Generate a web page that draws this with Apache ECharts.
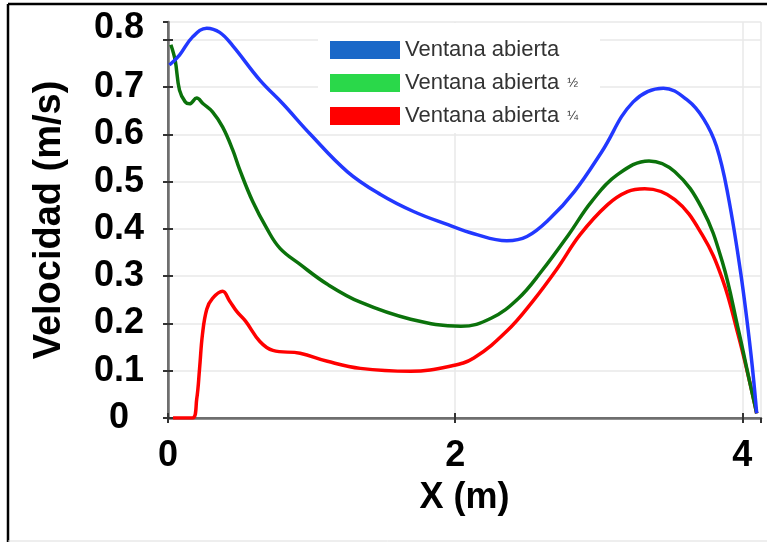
<!DOCTYPE html>
<html>
<head>
<meta charset="utf-8">
<script src="https://cdn.jsdelivr.net/npm/echarts@6/dist/echarts.min.js"></script>
<style>
  html, body { margin: 0; padding: 0; background: #fff; }
  #main { width: 767px; height: 542px; }
</style>
</head>
<body>
<div id="main"></div>
<script>
// series names (legend)
var names = ['Ventana abierta', 'Ventana abierta ½', 'Ventana abierta ¼'];

// Ventana abierta
var xAbierta = [0.01, 0.08, 0.17, 0.27, 0.36, 0.45, 0.64, 0.8, 0.99, 1.25, 1.48, 1.71, 1.95, 2.13, 2.36, 2.5, 2.66, 2.83, 3.02, 3.24, 3.45, 3.62, 3.73, 3.82, 3.9, 3.99, 4.06, 4.1];
var vAbierta = [0.747, 0.768, 0.806, 0.825, 0.816, 0.788, 0.715, 0.665, 0.601, 0.521, 0.473, 0.437, 0.409, 0.39, 0.375, 0.384, 0.422, 0.479, 0.563, 0.669, 0.698, 0.672, 0.633, 0.575, 0.472, 0.304, 0.135, 0.01];

// Ventana abierta 1/2
var xMedio = [0.02, 0.05, 0.08, 0.12, 0.15, 0.2, 0.245, 0.31, 0.38, 0.45, 0.5, 0.59, 0.69, 0.78, 0.92, 1.11, 1.34, 1.69, 2.04, 2.25, 2.44, 2.6, 2.79, 2.95, 3.13, 3.35, 3.53, 3.72, 3.86, 3.97, 4.05, 4.1];
var vMedio = [0.79, 0.757, 0.694, 0.669, 0.665, 0.677, 0.665, 0.648, 0.616, 0.568, 0.525, 0.458, 0.40, 0.359, 0.325, 0.283, 0.245, 0.209, 0.194, 0.211, 0.253, 0.31, 0.388, 0.458, 0.515, 0.544, 0.521, 0.443, 0.331, 0.19, 0.078, 0.01];

// Ventana abierta 1/4
var xCuarto = [0.035, 0.17, 0.2, 0.22, 0.24, 0.27, 0.31, 0.38, 0.43, 0.48, 0.54, 0.64, 0.73, 0.92, 1.11, 1.34, 1.69, 1.97, 2.13, 2.36, 2.54, 2.71, 2.87, 3.06, 3.2, 3.32, 3.53, 3.72, 3.86, 3.97, 4.05, 4.1];
var vCuarto = [0.0, 0.0, 0.04, 0.105, 0.177, 0.23, 0.253, 0.268, 0.247, 0.225, 0.205, 0.162, 0.143, 0.137, 0.12, 0.105, 0.099, 0.11, 0.127, 0.184, 0.247, 0.316, 0.388, 0.451, 0.479, 0.485, 0.462, 0.388, 0.295, 0.177, 0.078, 0.01];

var lineColors = ['#2238ff', '#0b720b', '#ff0000'];
var legendColors = ['#1a68c8', '#2ad84a', '#ff0000'];

function pairs (xs, ys) {
    return xs.map(function (x, i) { return [x, ys[i]]; });
}

var myChart = echarts.init(document.getElementById('main'));

var labelFont = { fontFamily: 'Liberation Sans', fontWeight: 'bold', fontSize: 36, color: '#000' };
var frameColor = '#6e6e6e';

var option = {
    animation: false,
    grid: { left: 168, right: 6, top: 22, bottom: 124 },
    legend: {
        orient: 'vertical',
        left: 318,
        top: 23,
        padding: [16, 22, 6, 12],
        backgroundColor: '#fff',
        icon: 'rect',
        itemWidth: 70,
        itemHeight: 18,
        itemGap: 11,
        data: names.map(function (n, i) {
            return { name: n, itemStyle: { color: legendColors[i] } };
        }),
        formatter: function (name) {
            var last = name.slice(-1);
            if (last === '½' || last === '¼') {
                return name.slice(0, -2) + '{f|' + last + '}';
            }
            return name;
        },
        textStyle: {
            fontFamily: 'Liberation Sans',
            fontSize: 22,
            color: '#333',
            rich: { f: { fontFamily: 'Liberation Sans', fontSize: 13, color: '#333', padding: [0, 0, 0, 8] } }
        }
    },
    xAxis: [
        {
            type: 'value',
            min: 0, max: 4.13, interval: 2,
            name: 'X (m)',
            nameLocation: 'middle',
            nameGap: 62,
            nameTextStyle: labelFont,
            axisLine: { lineStyle: { color: frameColor, width: 2.5 } },
            axisTick: { inside: true, length: 5, lineStyle: { color: '#333', width: 2 } },
            axisLabel: Object.assign({ margin: 20, showMaxLabel: false }, labelFont),
            splitLine: { show: true, lineStyle: { color: '#e8e8e8', width: 1.5 } }
        },
        {
            type: 'value', position: 'top',
            min: 0, max: 4.13, interval: 2,
            axisLine: { lineStyle: { color: frameColor, width: 2 } },
            axisTick: { inside: true, length: 5, lineStyle: { color: '#333', width: 2 } },
            axisLabel: { show: false },
            splitLine: { show: false }
        }
    ],
    yAxis: [
        {
            type: 'value',
            min: 0, max: 0.838, interval: 0.1,
            name: 'Velocidad (m/s)',
            nameLocation: 'middle',
            nameRotate: 90,
            nameGap: 99,
            nameTextStyle: Object.assign({}, labelFont, { fontSize: 38 }),
            axisLine: { show: true, lineStyle: { color: frameColor, width: 2.5 } },
            axisTick: { show: true, inside: true, length: 5, lineStyle: { color: '#333', width: 2 } },
            axisLabel: Object.assign({
                margin: 49,
                align: 'center',
                showMaxLabel: false,
                formatter: function (v) {
                    if (v === 0) return '0';
                    var s = v.toFixed(1);
                    return s === '0.8' ? '{top|0.8}' : s;
                },
                rich: { top: Object.assign({ padding: [0, 0, 24, 0] }, labelFont) }
            }, labelFont),
            splitLine: { show: true, lineStyle: { color: '#e8e8e8', width: 1.5 } }
        },
        {
            type: 'value', position: 'right',
            min: 0, max: 0.838, interval: 0.1,
            axisLine: { show: true, lineStyle: { color: frameColor, width: 2 } },
            axisTick: { show: true, inside: true, length: 5, lineStyle: { color: '#333', width: 2 } },
            axisLabel: { show: false },
            splitLine: { show: false }
        }
    ],
    series: [
        { name: names[0], data: pairs(xAbierta, vAbierta) },
        { name: names[1], data: pairs(xMedio, vMedio) },
        { name: names[2], data: pairs(xCuarto, vCuarto) }
    ].map(function (s, i) {
        return Object.assign({
            type: 'line',
            smooth: 0.4,
            showSymbol: false,
            z: 3 - i + 2,
            itemStyle: { color: lineColors[i] },
            lineStyle: { color: lineColors[i], width: 3.5 }
        }, s);
    }),
    graphic: [
        { type: 'line', shape: { x1: 8, y1: 4, x2: 8, y2: 542 }, style: { stroke: '#000', lineWidth: 2.5 } },
        { type: 'line', shape: { x1: 8, y1: 4, x2: 767, y2: 4 }, style: { stroke: '#000', lineWidth: 2.5 } },
        { type: 'line', shape: { x1: 8, y1: 541, x2: 767, y2: 541 }, style: { stroke: '#ddd', lineWidth: 1 } }
    ]
};

myChart.setOption(option);
</script>
</body>
</html>
